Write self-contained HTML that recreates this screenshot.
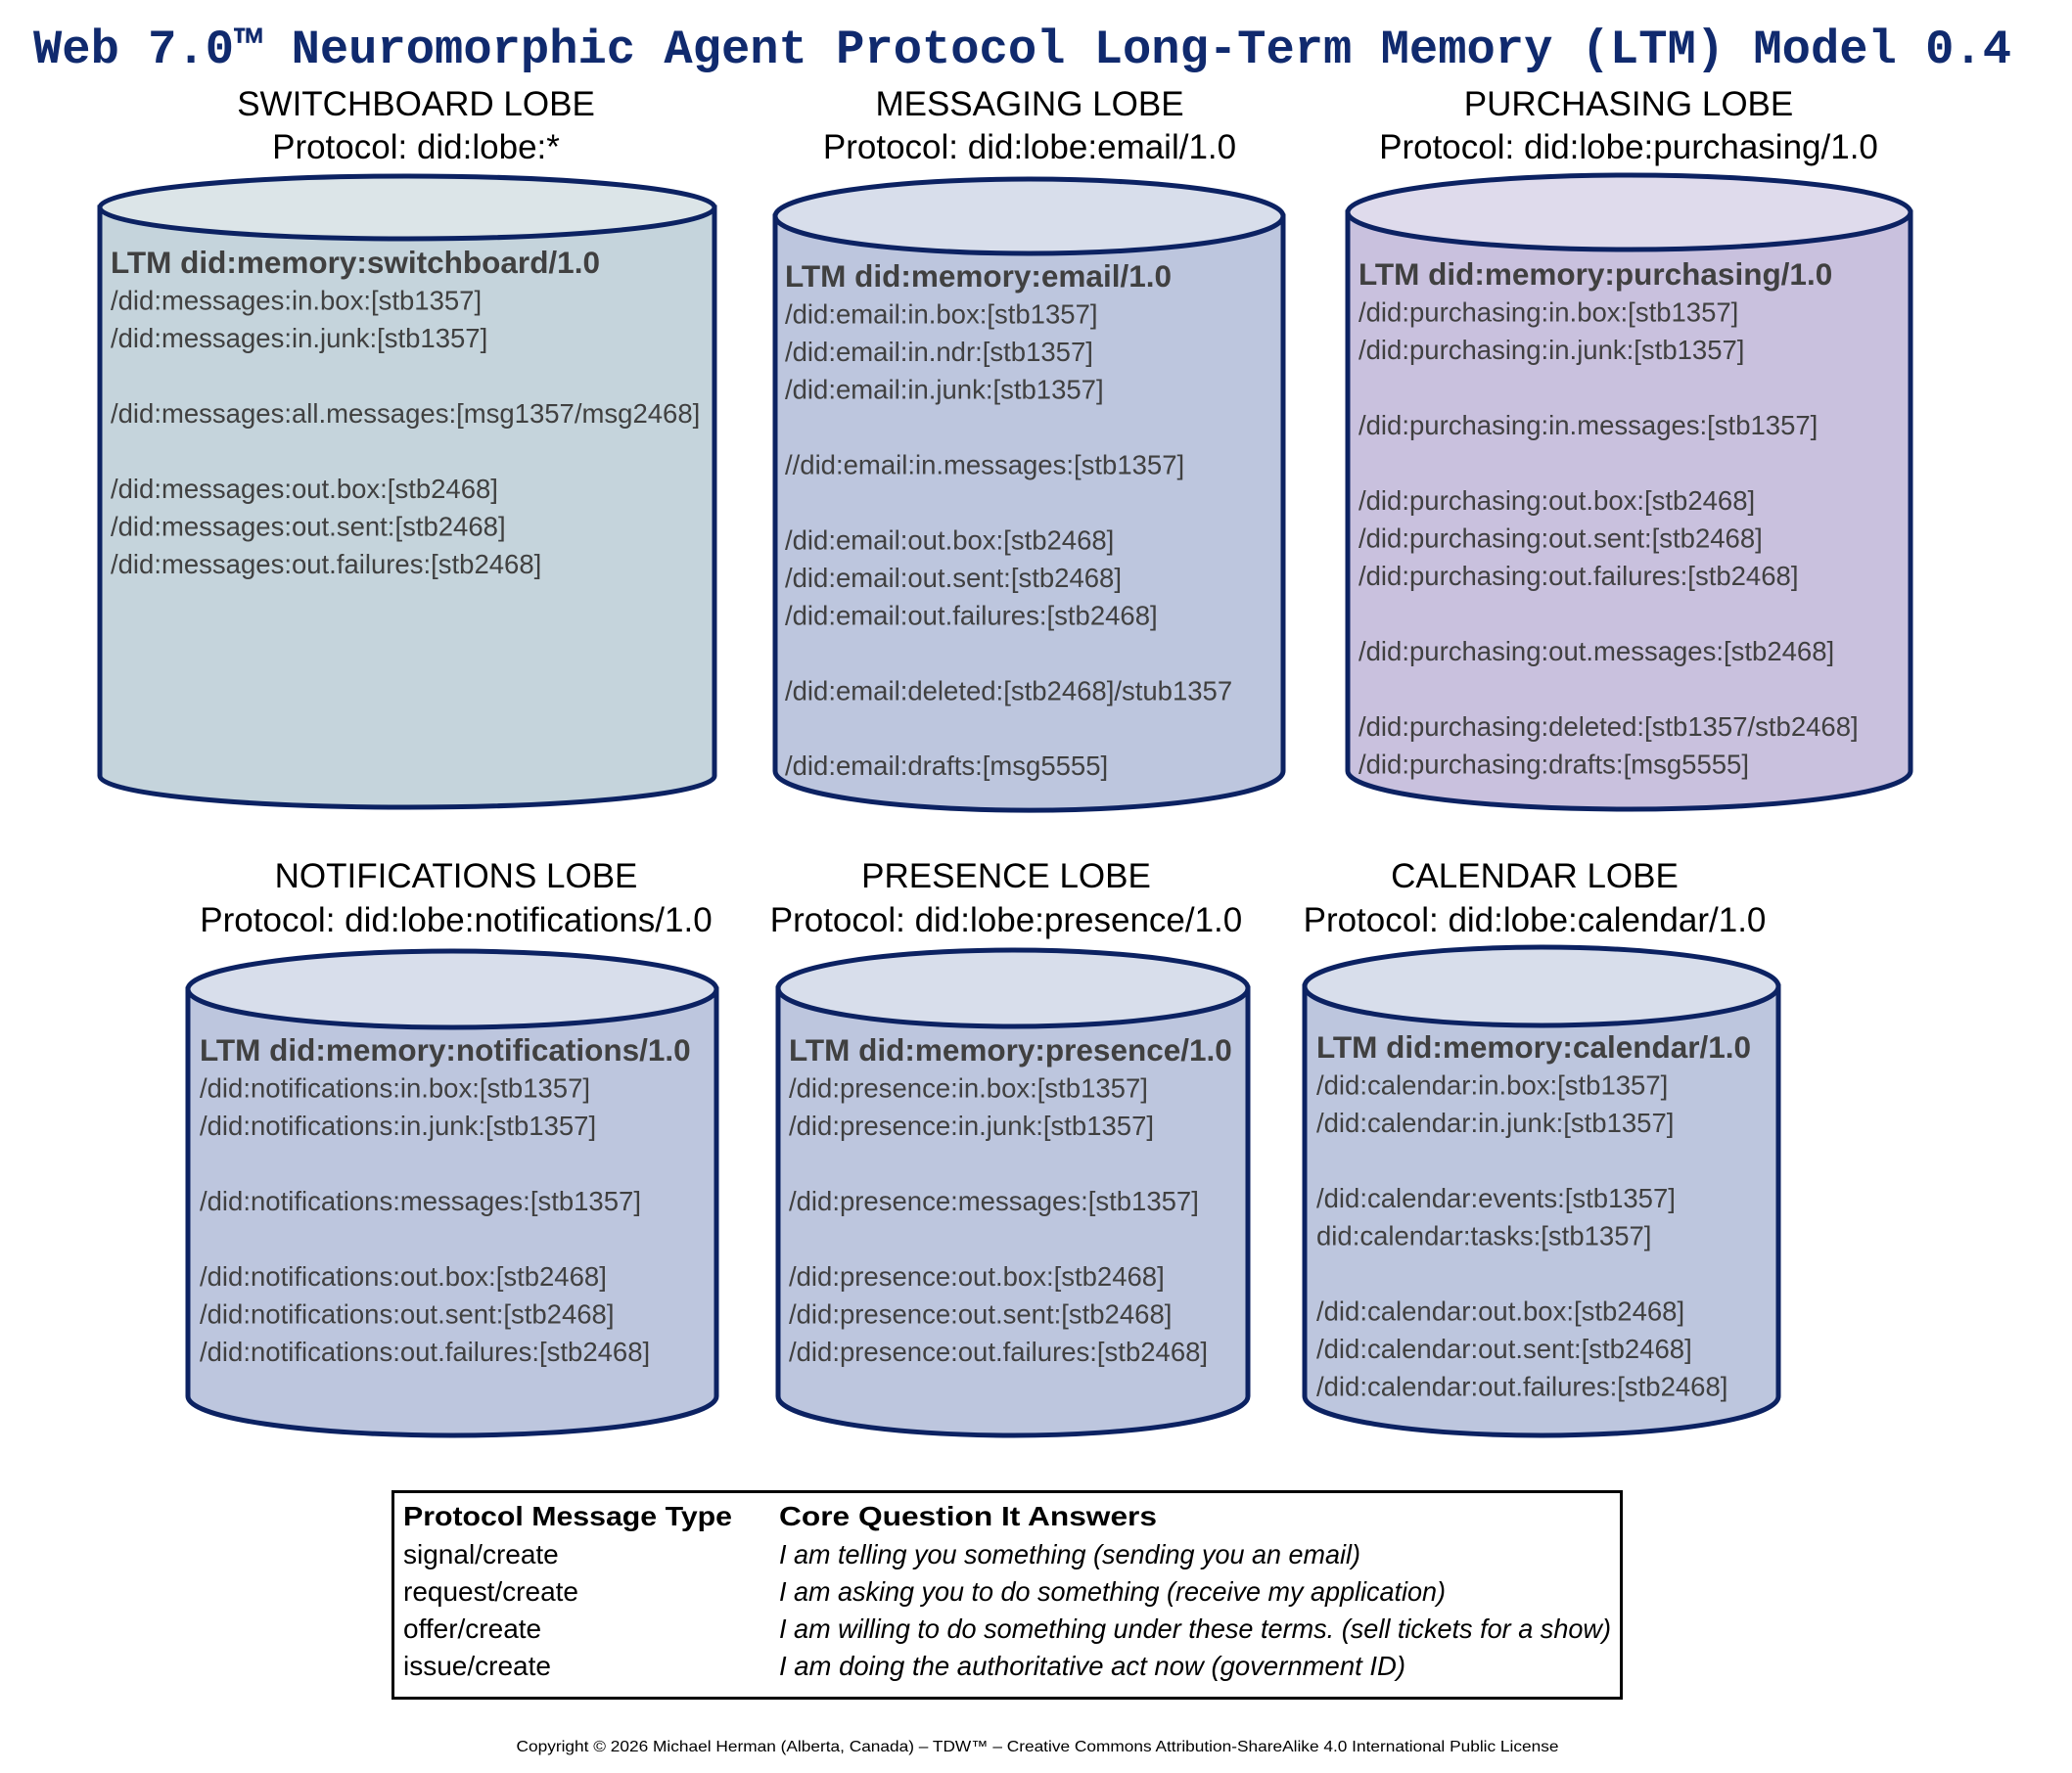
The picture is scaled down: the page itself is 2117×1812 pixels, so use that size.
<!DOCTYPE html>
<html><head><meta charset="utf-8"><style>
html,body{margin:0;padding:0;background:#fff;width:2117px;height:1812px;overflow:hidden}
svg{display:block}
.h{font-family:"Liberation Sans",sans-serif;font-size:35px;fill:#000;text-anchor:middle}
.t{font-family:"Liberation Sans",sans-serif;font-size:27.5px;fill:#404040}
.b{font-weight:bold;font-size:31.5px}
.tb{font-family:"Liberation Sans",sans-serif;font-size:28px;fill:#000}
.tb .b{font-size:28px}
.i{font-style:italic}
.cyl{stroke:#0c2262;stroke-width:5}
</style></head><body>
<svg width="2117" height="1812" viewBox="0 0 2117 1812" xmlns="http://www.w3.org/2000/svg">
<text x="34" y="64" textLength="2021" lengthAdjust="spacingAndGlyphs" style="font-family:'Liberation Mono',monospace;font-weight:bold;font-size:49px;fill:#102a6e">Web 7.0™ Neuromorphic Agent Protocol Long-Term Memory (LTM) Model 0.4</text>

<text class="h" x="425" y="118">SWITCHBOARD LOBE</text>
<text class="h" x="425" y="162">Protocol: did:lobe:*</text>
<text class="h" x="1052" y="118">MESSAGING LOBE</text>
<text class="h" x="1052" y="162">Protocol: did:lobe:email/1.0</text>
<text class="h" x="1664" y="118">PURCHASING LOBE</text>
<text class="h" x="1664" y="162">Protocol: did:lobe:purchasing/1.0</text>
<text class="h" x="466" y="907">NOTIFICATIONS LOBE</text>
<text class="h" x="466" y="952">Protocol: did:lobe:notifications/1.0</text>
<text class="h" x="1028" y="907">PRESENCE LOBE</text>
<text class="h" x="1028" y="952">Protocol: did:lobe:presence/1.0</text>
<text class="h" x="1568" y="907">CALENDAR LOBE</text>
<text class="h" x="1568" y="952">Protocol: did:lobe:calendar/1.0</text>

<path class="cyl" fill="#c5d4dc" d="M102 212 L102 793 A314 32 0 0 0 730 793 L730 212 Z"/>
<ellipse class="cyl" fill="#dce5e8" cx="416" cy="212" rx="314" ry="32"/>

<path class="cyl" fill="#bdc6de" d="M792 221 L792 788 A259 40 0 0 0 1311 788 L1311 221 Z"/>
<ellipse class="cyl" fill="#d8deeb" cx="1051.5" cy="221" rx="259.5" ry="38"/>

<path class="cyl" fill="#c9c1de" d="M1377 217 L1377 788 A287.5 39 0 0 0 1952 788 L1952 217 Z"/>
<ellipse class="cyl" fill="#dfdbec" cx="1664.5" cy="217" rx="287.5" ry="38"/>

<path class="cyl" fill="#bdc6de" d="M192 1011 L192 1427 A270 40 0 0 0 732 1427 L732 1011 Z"/>
<ellipse class="cyl" fill="#d8deeb" cx="462" cy="1011" rx="270" ry="39"/>

<path class="cyl" fill="#bdc6de" d="M795 1010 L795 1427 A240 40 0 0 0 1275 1427 L1275 1010 Z"/>
<ellipse class="cyl" fill="#d8deeb" cx="1035" cy="1010" rx="240" ry="39"/>

<path class="cyl" fill="#bdc6de" d="M1333 1008 L1333 1427 A242 40 0 0 0 1817 1427 L1817 1008 Z"/>
<ellipse class="cyl" fill="#d8deeb" cx="1575" cy="1008" rx="242" ry="40"/>

<g class="t">
<text class="b" x="113" y="279">LTM did:memory:switchboard/1.0</text>
<text x="113" y="316.5">/did:messages:in.box:[stb1357]</text>
<text x="113" y="355">/did:messages:in.junk:[stb1357]</text>
<text x="113" y="432">/did:messages:all.messages:[msg1357/msg2468]</text>
<text x="113" y="509">/did:messages:out.box:[stb2468]</text>
<text x="113" y="547.5">/did:messages:out.sent:[stb2468]</text>
<text x="113" y="586">/did:messages:out.failures:[stb2468]</text>

<text class="b" x="802" y="293">LTM did:memory:email/1.0</text>
<text x="802" y="330.5">/did:email:in.box:[stb1357]</text>
<text x="802" y="369">/did:email:in.ndr:[stb1357]</text>
<text x="802" y="407.5">/did:email:in.junk:[stb1357]</text>
<text x="802" y="484.5">//did:email:in.messages:[stb1357]</text>
<text x="802" y="561.5">/did:email:out.box:[stb2468]</text>
<text x="802" y="600">/did:email:out.sent:[stb2468]</text>
<text x="802" y="638.5">/did:email:out.failures:[stb2468]</text>
<text x="802" y="715.5">/did:email:deleted:[stb2468]/stub1357</text>
<text x="802" y="792">/did:email:drafts:[msg5555]</text>

<text class="b" x="1388" y="291">LTM did:memory:purchasing/1.0</text>
<text x="1388" y="328.5">/did:purchasing:in.box:[stb1357]</text>
<text x="1388" y="367">/did:purchasing:in.junk:[stb1357]</text>
<text x="1388" y="444">/did:purchasing:in.messages:[stb1357]</text>
<text x="1388" y="521">/did:purchasing:out.box:[stb2468]</text>
<text x="1388" y="559.5">/did:purchasing:out.sent:[stb2468]</text>
<text x="1388" y="598">/did:purchasing:out.failures:[stb2468]</text>
<text x="1388" y="675">/did:purchasing:out.messages:[stb2468]</text>
<text x="1388" y="752">/did:purchasing:deleted:[stb1357/stb2468]</text>
<text x="1388" y="790.5">/did:purchasing:drafts:[msg5555]</text>

<text class="b" x="204" y="1084">LTM did:memory:notifications/1.0</text>
<text x="204" y="1121.5">/did:notifications:in.box:[stb1357]</text>
<text x="204" y="1160">/did:notifications:in.junk:[stb1357]</text>
<text x="204" y="1237">/did:notifications:messages:[stb1357]</text>
<text x="204" y="1314">/did:notifications:out.box:[stb2468]</text>
<text x="204" y="1352.5">/did:notifications:out.sent:[stb2468]</text>
<text x="204" y="1391">/did:notifications:out.failures:[stb2468]</text>

<text class="b" x="806" y="1084">LTM did:memory:presence/1.0</text>
<text x="806" y="1121.5">/did:presence:in.box:[stb1357]</text>
<text x="806" y="1160">/did:presence:in.junk:[stb1357]</text>
<text x="806" y="1237">/did:presence:messages:[stb1357]</text>
<text x="806" y="1314">/did:presence:out.box:[stb2468]</text>
<text x="806" y="1352.5">/did:presence:out.sent:[stb2468]</text>
<text x="806" y="1391">/did:presence:out.failures:[stb2468]</text>

<text class="b" x="1345" y="1081">LTM did:memory:calendar/1.0</text>
<text x="1345" y="1118.5">/did:calendar:in.box:[stb1357]</text>
<text x="1345" y="1157">/did:calendar:in.junk:[stb1357]</text>
<text x="1345" y="1234">/did:calendar:events:[stb1357]</text>
<text x="1345" y="1272.5">did:calendar:tasks:[stb1357]</text>
<text x="1345" y="1349.5">/did:calendar:out.box:[stb2468]</text>
<text x="1345" y="1388">/did:calendar:out.sent:[stb2468]</text>
<text x="1345" y="1426.5">/did:calendar:out.failures:[stb2468]</text>
</g>

<rect x="401.5" y="1524.5" width="1255" height="211" fill="#fff" stroke="#000" stroke-width="3"/>
<g class="tb">
<text class="b" x="412" y="1559" textLength="336" lengthAdjust="spacingAndGlyphs">Protocol Message Type</text>
<text class="b" x="796" y="1559" textLength="386" lengthAdjust="spacingAndGlyphs">Core Question It Answers</text>
<text x="412" y="1598">signal/create</text>
<text x="412" y="1636">request/create</text>
<text x="412" y="1674">offer/create</text>
<text x="412" y="1712">issue/create</text>
<text class="i" x="796" y="1598" textLength="594" lengthAdjust="spacingAndGlyphs">I am telling you something (sending you an email)</text>
<text class="i" x="796" y="1636" textLength="681" lengthAdjust="spacingAndGlyphs">I am asking you to do something (receive my application)</text>
<text class="i" x="796" y="1674" textLength="850" lengthAdjust="spacingAndGlyphs">I am willing to do something under these terms. (sell tickets for a show)</text>
<text class="i" x="796" y="1712" textLength="640" lengthAdjust="spacingAndGlyphs">I am doing the authoritative act now (government ID)</text>
</g>

<text x="1060" y="1790" text-anchor="middle" textLength="1065" lengthAdjust="spacingAndGlyphs" style="font-family:'Liberation Sans',sans-serif;font-size:16px;fill:#000">Copyright © 2026 Michael Herman (Alberta, Canada) – TDW™ – Creative Commons Attribution-ShareAlike  4.0 International Public License</text>
</svg>
</body></html>
